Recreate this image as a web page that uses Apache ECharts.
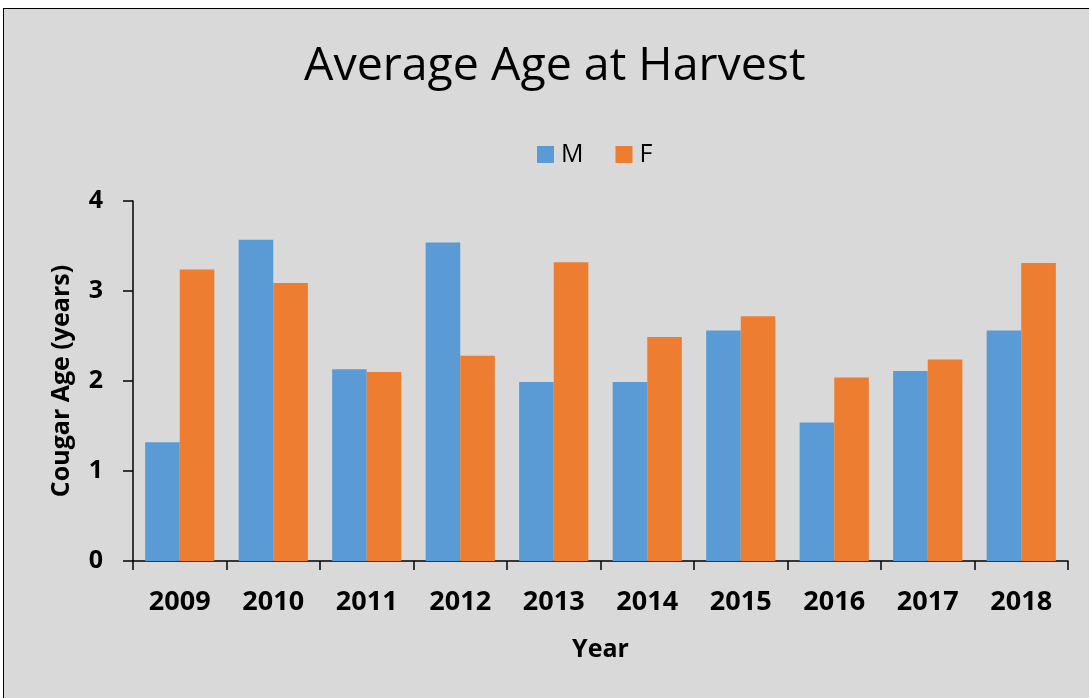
<!DOCTYPE html>
<html>
<head>
<meta charset="utf-8">
<script src="https://cdn.jsdelivr.net/npm/echarts@6/dist/echarts.min.js"></script>
<style>
html,body{margin:0;padding:0;background:#fff;width:1089px;height:698px;overflow:hidden;}
#frame{position:absolute;left:3px;top:8px;width:1100px;height:700px;background:#d9d9d9;border-left:1.5px solid #000;border-top:1.5px solid #000;}
#chart{position:absolute;left:0;top:0;width:1089px;height:698px;}
</style>
</head>
<body>
<div id="frame"></div>
<div id="chart"></div>
<script>
const categories = ['2009','2010','2011','2012','2013','2014','2015','2016','2017','2018'];
const maleAge = [1.32, 3.57, 2.13, 3.54, 1.99, 1.99, 2.56, 1.54, 2.11, 2.56];
const femaleAge = [3.24, 3.09, 2.10, 2.28, 3.32, 2.49, 2.72, 2.04, 2.24, 3.31];
const seriesNames = ['M','F'];
const yTicks = {min:0, max:4, interval:1};

const chart = echarts.init(document.getElementById('chart'), null, {renderer:'canvas'});
const FONT = "'Open Sans', 'Liberation Sans', sans-serif";
chart.setOption({
  backgroundColor: 'transparent',
  animation: false,
  title: {
    text: 'Average Age at Harvest',
    left: 299,
    top: 38,
    textStyle: {fontFamily: FONT, fontSize: 46.5, fontWeight: 'normal', color: '#000'}
  },
  legend: {
    data: seriesNames,
    left: 532,
    top: 137,
    itemWidth: 17,
    itemHeight: 17,
    itemGap: 32,
    icon: 'rect',
    textStyle: {fontFamily: FONT, fontSize: 25, color: '#000', padding: [0,0,0,2]}
  },
  grid: {left: 133, right: 21, top: 201, bottom: 137, containLabel: false},
  xAxis: {
    type: 'category',
    data: categories,
    name: 'Year',
    nameLocation: 'middle',
    nameGap: 76,
    nameTextStyle: {fontFamily: FONT, fontSize: 25, fontWeight: 'bold', color: '#000'},
    axisLine: {lineStyle: {color: '#000', width: 1.5}},
    axisTick: {show: true, length: 9, lineStyle: {color: '#000', width: 1.5}},
    axisLabel: {fontFamily: FONT, fontSize: 27, fontWeight: 'bold', color: '#000', margin: 28}
  },
  yAxis: {
    type: 'value',
    min: yTicks.min, max: yTicks.max, interval: yTicks.interval,
    name: 'Cougar Age (years)',
    nameLocation: 'middle',
    nameGap: 59,
    nameTextStyle: {fontFamily: FONT, fontSize: 25, fontWeight: 'bold', color: '#000'},
    axisLine: {show: true, lineStyle: {color: '#000', width: 1.5}},
    axisTick: {show: true, length: 10, lineStyle: {color: '#000', width: 1.5}},
    splitLine: {show: false},
    axisLabel: {fontFamily: FONT, fontSize: 25, fontWeight: 'bold', color: '#000', margin: 30}
  },
  series: [
    {name: seriesNames[0], type: 'bar', data: maleAge, barGap: '0%', barCategoryGap: '26%', itemStyle: {color: '#5b9bd5'}},
    {name: seriesNames[1], type: 'bar', data: femaleAge, barGap: '0%', barCategoryGap: '26%', itemStyle: {color: '#ed7d31'}}
  ]
});
</script>
</body>
</html>
